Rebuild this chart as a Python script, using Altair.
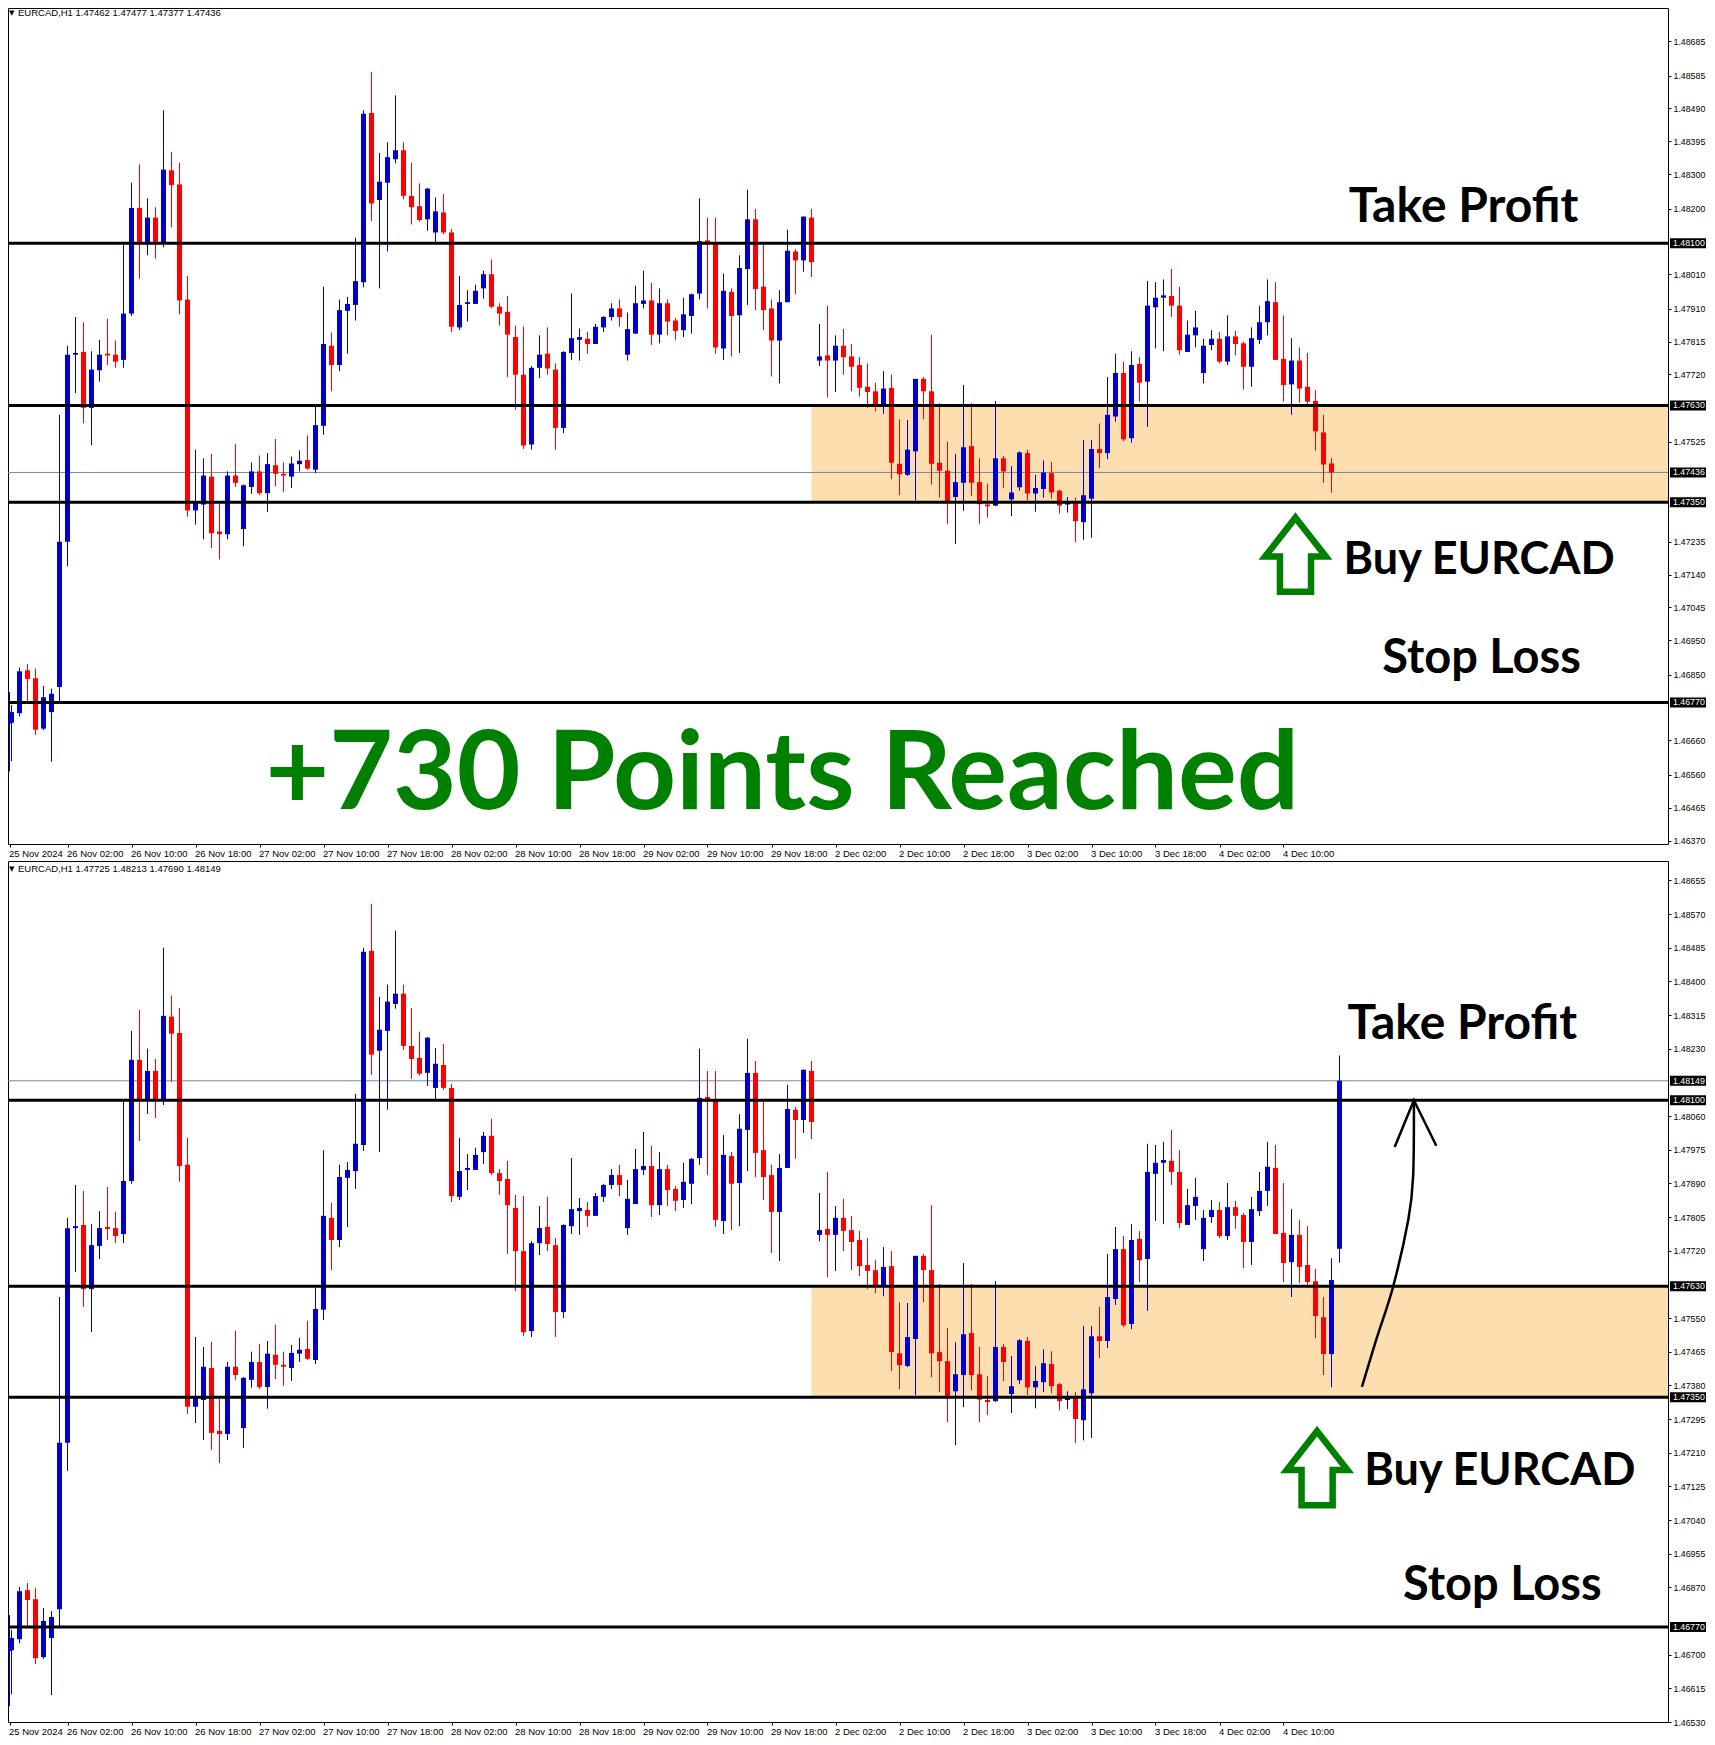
import altair as alt
import pandas as pd

BLUE = "#0000CD"
RED = "#FF0000"
GREEN = "#008000"
ZONE = "#FDDEAE"
GREY = "#778899"
AXIS_FONT = "Liberation Sans"
NOTE_FONT = "Lato"

# Hourly EURCAD candles, one value per bar
opens = [1.46709,1.46711,1.46739,1.46863,1.46840,1.46694,1.46742,1.46815,1.47235,1.47777,
         1.47785,1.47623,1.47732,1.47780,1.47777,1.47762,1.47896,1.48202,1.48100,1.48174,
         1.48100,1.48311,1.48270,1.47937,1.47326,1.47343,1.47424,1.47265,1.47257,1.47427,
         1.47272,1.47394,1.47439,1.47376,1.47457,1.47432,1.47424,1.47460,1.47472,1.47444,
         1.47571,1.47803,1.47747,1.47904,1.47921,1.47987,1.48477,1.48225,1.48275,1.48343,
         1.48369,1.48237,1.48207,1.48169,1.48131,1.48189,1.48131,1.47856,1.47924,1.47924,
         1.47969,1.48010,1.47916,1.47901,1.47828,1.47719,1.47517,1.47739,1.47780,1.47734,
         1.47565,1.47782,1.47820,1.47823,1.47808,1.47856,1.47886,1.47911,1.47777,1.47838,
         1.47924,1.47934,1.47835,1.47926,1.47876,1.47848,1.47889,1.47954,1.48108,1.48103,
         1.47795,1.47959,1.47891,1.48025,1.48169,1.47974,1.47911,1.47818,1.47929,1.48076,
         1.48050,1.48174,1.47760,1.47775,1.47760,1.47803,1.47772,1.47747,1.47684,1.47671,
         1.47631,1.47681,1.47461,1.47429,1.47497,1.47707,1.47671,1.47464,1.47441,1.47365,
         1.47406,1.47512,1.47408,1.47343,1.47340,1.47477,1.47358,1.47393,1.47492,1.47375,
         1.47388,1.47434,1.47383,1.47343,1.47348,1.47292,1.47360,1.47504,1.47492,1.47598,
         1.47724,1.47535,1.47750,1.47699,1.47914,1.47942,1.47947,1.47919,1.47785,1.47833,
         1.47724,1.47805,1.47823,1.47757,1.47830,1.47810,1.47742,1.47820,1.47871,1.47929,
         1.47765,1.47691,1.47760,1.47684,1.47643,1.47552,1.47459,1.47725]
highs = [1.46800,1.46762,1.46871,1.46881,1.46868,1.46818,1.46810,1.47603,1.47803,1.47886,
         1.47871,1.47787,1.47820,1.47881,1.47818,1.48097,1.48275,1.48328,1.48230,1.48204,
         1.48485,1.48364,1.48333,1.48005,1.47502,1.47477,1.47490,1.47346,1.47439,1.47518,
         1.47401,1.47465,1.47485,1.47492,1.47533,1.47465,1.47482,1.47500,1.47543,1.47627,
         1.47974,1.47841,1.47937,1.47944,1.48116,1.48485,1.48596,1.48361,1.48392,1.48528,
         1.48392,1.48333,1.48273,1.48260,1.48232,1.48242,1.48141,1.48005,1.47964,1.47980,
         1.48020,1.48053,1.47926,1.47947,1.47861,1.47858,1.47744,1.47833,1.47856,1.47752,
         1.47787,1.47954,1.47853,1.47843,1.47866,1.47889,1.47926,1.47937,1.47899,1.47977,
         1.48020,1.47985,1.47969,1.47937,1.47883,1.47942,1.47954,1.48230,1.48174,1.48174,
         1.48012,1.47969,1.48065,1.48255,1.48199,1.48096,1.47937,1.47964,1.48139,1.48083,
         1.48177,1.48199,1.47866,1.47919,1.47833,1.47851,1.47808,1.47770,1.47752,1.47696,
         1.47729,1.47719,1.47590,1.47588,1.47707,1.47712,1.47835,1.47636,1.47525,1.47489,
         1.47689,1.47636,1.47477,1.47403,1.47643,1.47484,1.47454,1.47497,1.47502,1.47429,
         1.47471,1.47466,1.47386,1.47365,1.47363,1.47530,1.47530,1.47578,1.47712,1.47780,
         1.47757,1.47787,1.47770,1.47990,1.47987,1.47995,1.48025,1.47974,1.47876,1.47904,
         1.47823,1.47848,1.47843,1.47891,1.47846,1.47815,1.47856,1.47919,1.47995,1.47987,
         1.47891,1.47825,1.47798,1.47782,1.47674,1.47603,1.47701,1.48213]
lows = [1.46570,1.46600,1.46729,1.46770,1.46676,1.46689,1.46598,1.46770,1.47164,1.47666,
        1.47578,1.47515,1.47699,1.47747,1.47739,1.47739,1.47889,1.47997,1.48065,1.48055,
        1.48088,1.48146,1.47894,1.47308,1.47285,1.47242,1.47217,1.47184,1.47242,1.47394,
        1.47222,1.47374,1.47371,1.47321,1.47396,1.47379,1.47391,1.47439,1.47444,1.47434,
        1.47545,1.47671,1.47729,1.47780,1.47876,1.47972,1.48164,1.47969,1.48076,1.48331,
        1.48227,1.48154,1.48162,1.48136,1.48103,1.48126,1.47843,1.47848,1.47873,1.47939,
        1.47939,1.47911,1.47861,1.47712,1.47618,1.47504,1.47502,1.47709,1.47719,1.47502,
        1.47550,1.47762,1.47760,1.47780,1.47808,1.47843,1.47876,1.47858,1.47760,1.47838,
        1.47911,1.47805,1.47810,1.47833,1.47820,1.47828,1.47838,1.47937,1.47911,1.47780,
        1.47762,1.47772,1.47782,1.47921,1.47906,1.47848,1.47714,1.47694,1.47929,1.47952,
        1.48017,1.48002,1.47744,1.47653,1.47669,1.47719,1.47671,1.47656,1.47623,1.47613,
        1.47605,1.47416,1.47370,1.47426,1.47355,1.47590,1.47401,1.47363,1.47287,1.47229,
        1.47325,1.47368,1.47287,1.47305,1.47338,1.47391,1.47310,1.47383,1.47355,1.47322,
        1.47363,1.47360,1.47317,1.47320,1.47234,1.47241,1.47247,1.47449,1.47474,1.47583,
        1.47527,1.47522,1.47641,1.47568,1.47795,1.47787,1.47886,1.47777,1.47785,1.47798,
        1.47694,1.47790,1.47752,1.47747,1.47775,1.47676,1.47684,1.47808,1.47833,1.47762,
        1.47641,1.47603,1.47638,1.47630,1.47499,1.47406,1.47375,1.47690]
closes = [1.46716,1.46742,1.46860,1.46838,1.46691,1.46785,1.46795,1.47235,1.47777,1.47782,
          1.47623,1.47734,1.47777,1.47775,1.47757,1.47896,1.48202,1.48100,1.48174,1.48100,
          1.48313,1.48268,1.47934,1.47326,1.47348,1.47427,1.47260,1.47257,1.47427,1.47406,
          1.47399,1.47439,1.47376,1.47460,1.47432,1.47427,1.47462,1.47470,1.47447,1.47573,
          1.47808,1.47747,1.47906,1.47924,1.47990,1.48475,1.48215,1.48278,1.48349,1.48369,
          1.48237,1.48204,1.48167,1.48258,1.48192,1.48131,1.47858,1.47921,1.47929,1.47962,
          1.48010,1.47916,1.47896,1.47835,1.47719,1.47514,1.47739,1.47777,1.47737,1.47565,
          1.47785,1.47825,1.47828,1.47808,1.47858,1.47886,1.47911,1.47886,1.47851,1.47926,
          1.47934,1.47835,1.47926,1.47873,1.47846,1.47894,1.47952,1.48106,1.48097,1.47798,
          1.47962,1.47889,1.48028,1.48169,1.47967,1.47906,1.47818,1.47929,1.48078,1.48050,
          1.48177,1.48045,1.47772,1.47760,1.47803,1.47770,1.47742,1.47681,1.47669,1.47631,
          1.47679,1.47464,1.47431,1.47502,1.47707,1.47671,1.47461,1.47441,1.47351,1.47408,
          1.47509,1.47406,1.47344,1.47338,1.47477,1.47439,1.47378,1.47494,1.47375,1.47391,
          1.47436,1.47378,1.47340,1.47348,1.47295,1.47370,1.47504,1.47492,1.47603,1.47724,
          1.47532,1.47747,1.47696,1.47919,1.47942,1.47949,1.47919,1.47790,1.47835,1.47856,
          1.47803,1.47823,1.47757,1.47830,1.47808,1.47742,1.47825,1.47871,1.47932,1.47762,
          1.47689,1.47760,1.47679,1.47641,1.47555,1.47459,1.47646,1.48149]

# The upper screenshot was taken while bar 166 was still forming
top_last_bar = [1.47462, 1.47477, 1.47377, 1.47436]

time_labels = ["25 Nov 2024","26 Nov 02:00","26 Nov 10:00","26 Nov 18:00","27 Nov 02:00","27 Nov 10:00",
               "27 Nov 18:00","28 Nov 02:00","28 Nov 10:00","28 Nov 18:00","29 Nov 02:00","29 Nov 10:00",
               "29 Nov 18:00","2 Dec 02:00","2 Dec 10:00","2 Dec 18:00","3 Dec 02:00","3 Dec 10:00",
               "3 Dec 18:00","4 Dec 02:00","4 Dec 10:00"]
time_ticks = [8 * k for k in range(len(time_labels))]

top_ticks = [1.48685,1.48585,1.48490,1.48395,1.48300,1.48200,1.48010,1.47910,1.47815,1.47720,1.47525,
             1.47235,1.47140,1.47045,1.46950,1.46850,1.46660,1.46560,1.46465,1.46370]
bottom_ticks = [1.48655,1.48570,1.48485,1.48400,1.48315,1.48230,1.48060,1.47975,1.47890,1.47805,1.47720,
                1.47550,1.47465,1.47380,1.47295,1.47210,1.47125,1.47040,1.46955,1.46870,1.46700,1.46615,1.46530]

levels = [1.48100, 1.47630, 1.47350, 1.46770]
zone_hi, zone_lo = 1.47630, 1.47350
zone_start = 101
bars_end = 208.0625

curve_i = [169.8, 171.65, 173.7, 175.6, 176.2, 176.3]
curve_p = [1.47376, 1.47499, 1.47629, 1.47798, 1.47906, 1.48096]
head_i = [173.9, 176.3, 179.1]
head_p = [1.47982, 1.48100, 1.47985]

ARROW = "M0,-1 L0.82,0.05 L0.42,0.05 L0.42,1 L-0.42,1 L-0.42,0.05 L-0.82,0.05 Z"
PW, TOP_H, BOT_H = 1660, 836, 861


def frame(o, h, l, c):
    df = pd.DataFrame({"i": range(len(o)), "o": o, "h": h, "l": l, "c": c})
    df["dir"] = ["up" if a >= b else "down" for a, b in zip(df.c, df.o)]
    return df


def panel(df, height, ydom, ticks, line_w, current, header, notes, arrow_at, tags, extra=None):
    xs = alt.Scale(domain=[0, 1, bars_end], range=[1.5, 3.5, PW])
    ys = alt.Scale(domain=ydom)
    col = alt.Color("dir:N", scale=alt.Scale(domain=["up", "down"], range=[BLUE, RED]), legend=None)
    xnone = alt.X("i:Q", scale=xs, axis=None)
    ynone = alt.Y("p:Q", scale=ys, axis=None)

    base = alt.Chart(pd.DataFrame({"i": [zone_start], "i2": [bars_end], "p": [zone_hi], "p2": [zone_lo]})).mark_rect(
        color=ZONE, clip=True
    ).encode(
        x=alt.X("i:Q", scale=xs, axis=alt.Axis(
            values=time_ticks, grid=False, domain=False, tickColor="black", tickSize=3, labelColor="black",
            labelFont=AXIS_FONT, labelFontSize=9.5, labelPadding=1, labelAlign="left", labelOffset=-1,
            labelBaseline="top", labelOverlap=False, labelFlush=False, title=None,
            labelExpr="%s[round(datum.value / 8)]" % str(time_labels),
        )),
        x2="i2:Q",
        y=alt.Y("p:Q", scale=ys, axis=alt.Axis(
            values=ticks, orient="right", grid=False, domain=False, tickColor="black", tickSize=3,
            labelColor="black", labelFont=AXIS_FONT, labelFontSize=8.8, labelPadding=2, format=".5f",
            labelOverlap=False, labelFlush=False, title=None,
        )),
        y2="p2:Q",
    )
    grey = alt.Chart(pd.DataFrame({"p": [current]})).mark_rule(color=GREY, strokeWidth=1).encode(y=ynone)
    wick = alt.Chart(df).mark_rule(strokeWidth=1, clip=True).encode(
        x=xnone, y=alt.Y("l:Q", scale=ys, axis=None), y2="h:Q", color=col
    )
    body = alt.Chart(df).mark_rule(strokeWidth=5, clip=True).encode(
        x=xnone, y=alt.Y("o:Q", scale=ys, axis=None), y2="c:Q", color=col
    )
    lines = alt.Chart(pd.DataFrame({"p": levels})).mark_rule(color="black", strokeWidth=line_w).encode(y=ynone)
    arrow = alt.Chart(pd.DataFrame({"i": [arrow_at[0]], "p": [arrow_at[1]]})).mark_point(
        shape=ARROW, size=5476, filled=False, stroke=GREEN, strokeWidth=6.5, opacity=1
    ).encode(x=xnone, y=ynone)
    layers = [base, grey, wick, body, lines, arrow]
    for txt, i, p, size, colour in notes:
        layers.append(alt.Chart(pd.DataFrame({"i": [i], "p": [p], "t": [txt]})).mark_text(
            font=NOTE_FONT, fontWeight="bold", fontSize=size, color=colour, align="center", baseline="middle"
        ).encode(x=xnone, y=ynone, text="t:N"))
    tagdf = pd.DataFrame({"p": tags})
    tagdf["t"] = [f"{v:.5f}" for v in tags]
    layers.append(alt.Chart(tagdf).mark_rule(color="black", strokeWidth=10).encode(
        x=alt.value(PW + 2), x2=alt.value(PW + 43), y=ynone))
    layers.append(alt.Chart(tagdf).mark_text(
        color="white", font=AXIS_FONT, fontSize=8.8, align="left", baseline="middle"
    ).encode(x=alt.value(PW + 5), y=ynone, text="t:N"))
    hy = header[1]
    layers.append(alt.Chart(pd.DataFrame({"t": [header[0]]})).mark_text(
        color="black", font=AXIS_FONT, fontSize=9.5, align="left", baseline="middle"
    ).encode(x=alt.value(10), y=alt.value(hy), text="t:N"))
    layers.append(alt.Chart(pd.DataFrame({"t": ["\u25BC"]})).mark_text(
        color="black", font="DejaVu Sans", fontSize=7, align="left", baseline="middle"
    ).encode(x=alt.value(1), y=alt.value(hy), text="t:N"))
    if extra:
        layers.extend(extra)
    return alt.layer(*layers).resolve_axis(x="independent", y="independent").properties(width=PW, height=height)


top_df = frame(opens[:166] + top_last_bar[:1], highs[:166] + top_last_bar[1:2],
               lows[:166] + top_last_bar[2:3], closes[:166] + top_last_bar[3:])
bot_df = frame(opens, highs, lows, closes)

xs_shared = alt.Scale(domain=[0, 1, bars_end], range=[1.5, 3.5, PW])
ys_bottom = alt.Scale(domain=[1.46530, 1.48704])
curve = alt.Chart(pd.DataFrame({"i": curve_i, "p": curve_p, "k": range(len(curve_i))})).mark_line(
    color="black", strokeWidth=2.5, interpolate="cardinal", clip=True
).encode(x=alt.X("i:Q", scale=xs_shared, axis=None), y=alt.Y("p:Q", scale=ys_bottom, axis=None), order="k:Q")
head = alt.Chart(pd.DataFrame({"i": head_i, "p": head_p, "k": range(len(head_i))})).mark_line(
    color="black", strokeWidth=2.5, clip=True
).encode(x=alt.X("i:Q", scale=xs_shared, axis=None), y=alt.Y("p:Q", scale=ys_bottom, axis=None), order="k:Q")

top = panel(
    top_df, TOP_H, [1.46360, 1.48781], top_ticks, 3, 1.47436,
    ("EURCAD,H1  1.47462 1.47477 1.47377 1.47436", 5),
    [("Take Profit", 182.5, 1.48202, 48, "black"),
     ("Buy EURCAD", 184.45, 1.47183, 45, "black"),
     ("Stop Loss", 184.75, 1.46897, 47, "black"),
     ("+730 Points Reached", 97.35, 1.46558, 110, GREEN)],
    (161.5, 1.47198),
    [1.48100, 1.47630, 1.47436, 1.47350, 1.46770],
)
bottom = panel(
    bot_df, BOT_H, [1.46530, 1.48704], bottom_ticks, 3, 1.48149,
    ("EURCAD,H1  1.47725 1.48213 1.47690 1.48149", 8),
    [("Take Profit", 182.35, 1.48289, 48, "black"),
     ("Buy EURCAD", 187.05, 1.47163, 45, "black"),
     ("Stop Loss", 187.35, 1.46873, 47, "black")],
    (164.2, 1.47171),
    [1.48149, 1.48100, 1.47630, 1.47350, 1.46770],
    extra=[curve, head],
)

chart = alt.vconcat(top, bottom, spacing=17, bounds="flush").resolve_scale(
    x="independent", y="independent"
).properties(
    padding={"left": -2, "top": -1, "right": -11, "bottom": 4}, background="white"
).configure_view(stroke="black", strokeWidth=1)

chart.save("out.html", embed_options={"renderer": "svg", "actions": False})
